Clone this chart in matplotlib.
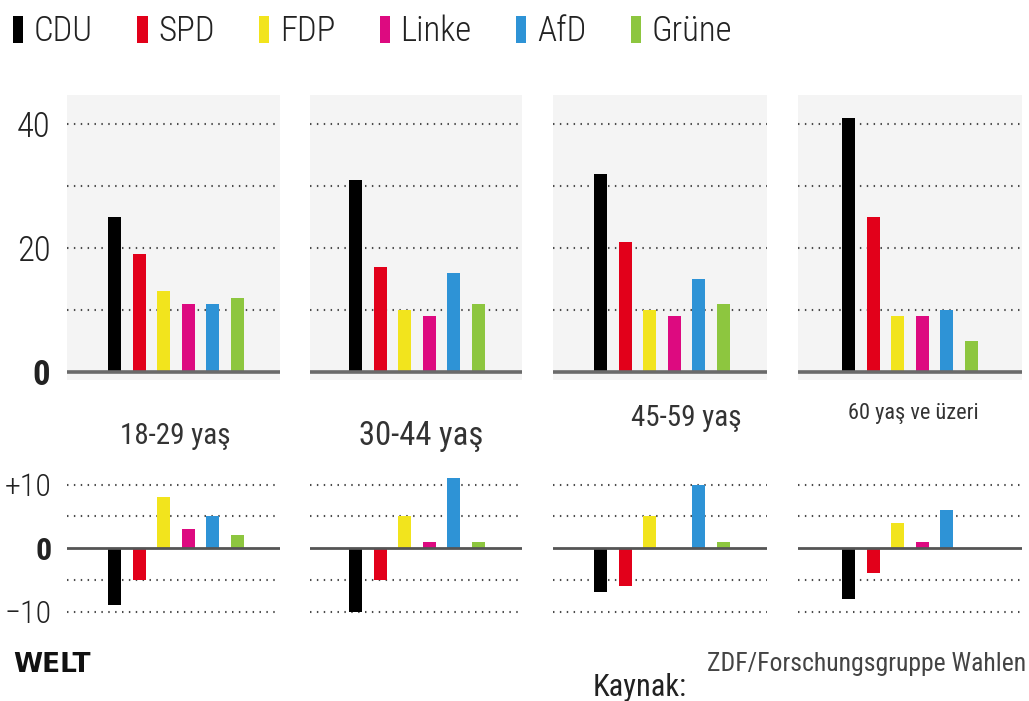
import matplotlib
matplotlib.use("Agg")
import matplotlib.pyplot as plt
from matplotlib.patches import Patch
from matplotlib import font_manager

# choose a narrow font if one is installed
_fonts = font_manager.fontManager.ttflist
_names = {f.name for f in _fonts}
_stretch = "normal"
NARROW = None
for cand in ["Liberation Sans Narrow", "Roboto Condensed", "Open Sans Condensed",
             "Arial Narrow", "Noto Sans Display"]:
    if cand in _names:
        NARROW = cand
        break
if NARROW is None:
    cond = [f for f in _fonts if f.name in ("Roboto", "Noto Sans", "Open Sans", "DejaVu Sans")
            and str(f.stretch) in ("condensed", "semi-condensed", "extra-condensed", "500", "300")]
    if cond:
        NARROW = cond[0].name
        _stretch = "condensed"
    else:
        NARROW = "Roboto" if "Roboto" in _names else "Liberation Sans"
        _stretch = "normal"

plt.rcParams['font.family'] = [NARROW, 'DejaVu Sans']
plt.rcParams['font.stretch'] = _stretch
SCALE = 1.0 if _stretch == "condensed" or "Narrow" in NARROW or "Condensed" in NARROW else 0.88

# ---------------- data ----------------
parties = ["CDU", "SPD", "FDP", "Linke", "AfD", "Grüne"]
colors = ["#000000", "#e2001a", "#f2e41d", "#dd0a80", "#2e93d6", "#8dc63f"]
age_groups = ["18-29 yaş", "30-44 yaş", "45-59 yaş", "60 yaş ve üzeri"]

share_18_29 = [25, 19, 13, 11, 11, 12]
share_30_44 = [31, 17, 10, 9, 16, 11]
share_45_59 = [32, 21, 10, 9, 15, 11]
share_60_up = [41, 25, 9, 9, 10, 5]

change_18_29 = [-9, -5, 8, 3, 5, 2]
change_30_44 = [-10, -5, 5, 1, 11, 1]
change_45_59 = [-7, -6, 5, 0, 10, 1]
change_60_up = [-8, -4, 4, 1, 6, 0]

shares = [share_18_29, share_30_44, share_45_59, share_60_up]
changes = [change_18_29, change_30_44, change_45_59, change_60_up]

top_ticks = [0, 20, 40]
top_tick_labels = ["0", "20", "40"]
top_grid = [10, 20, 30, 40]
bot_ticks = [-10, 0, 10]
bot_tick_labels = ["\u221210", "0", "+10"]
bot_grid = [-10, -5, 5, 10]

# ---------------- layout (pixels) ----------------
W, H = 1029, 701
fig = plt.figure(figsize=(W / 100, H / 100), dpi=100)
fig.patch.set_facecolor("white")

panels_x = [(67, 280), (310, 522), (553, 767), (798, 1022)]
cdu_offset = [47.5, 45.5, 47.5, 50.5]
slot = 24.6

top_y = (95, 380); top_zero = 372; top_scale = 6.2
bot_y = (474, 620); bot_zero = 548; bot_scale = 6.35


def add_ax(x0, x1, y0, y1):
    return fig.add_axes([x0 / W, 1 - y1 / H, (x1 - x0) / W, (y1 - y0) / H])


def fs(v):
    return v * SCALE


grid_kw = dict(color="#4a4a4a", lw=1.5, ls=(0, (0.7, 2.6)), zorder=1)
xs = list(range(len(parties)))

for i in range(4):
    x0, x1 = panels_x[i]
    xl = (-cdu_offset[i] / slot, (x1 - x0 - cdu_offset[i]) / slot)

    # top panel (vote share)
    ax = add_ax(x0, x1, *top_y)
    ax.set_facecolor("#f4f4f4")
    ax.set_xlim(*xl)
    ax.set_ylim((top_zero - top_y[1]) / top_scale, (top_zero - top_y[0]) / top_scale)
    for g in top_grid:
        ax.axhline(g, **grid_kw)
    ax.bar(xs, shares[i], width=0.53, color=colors, zorder=2)
    ax.axhline(0, color="#6a6a6a", lw=2.6, zorder=3)
    for s in ax.spines.values():
        s.set_visible(False)
    ax.set_xticks([])
    if i == 0:
        ax.set_yticks(top_ticks)
        ax.set_yticklabels(top_tick_labels, fontsize=fs(25), color="#222222",
                           fontweight="light")
        ax.tick_params(axis="y", length=0, pad=12)
        ax.get_yticklabels()[0].set_fontweight("bold")
    else:
        ax.set_yticks([])

    # bottom panel (change)
    bx = add_ax(x0, x1, *bot_y)
    bx.set_facecolor("white")
    bx.set_xlim(*xl)
    bx.set_ylim((bot_zero - bot_y[1]) / bot_scale, (bot_zero - bot_y[0]) / bot_scale)
    for g in bot_grid:
        bx.axhline(g, **grid_kw)
    bx.bar(xs, changes[i], width=0.53, color=colors, zorder=2)
    bx.axhline(0, color="#555555", lw=2.0, zorder=3)
    for s in bx.spines.values():
        s.set_visible(False)
    bx.set_xticks([])
    if i == 0:
        bx.set_yticks(bot_ticks)
        bx.set_yticklabels(bot_tick_labels, fontsize=fs(23), color="#222222",
                           fontweight="light")
        bx.tick_params(axis="y", length=0, pad=11)
        bx.get_yticklabels()[1].set_fontweight("bold")
    else:
        bx.set_yticks([])

# age-group labels (placed as in the reference)
label_specs = [(175, 436, 21), (421, 436, 23.5), (686, 418, 21), (913, 413, 16)]
for lab, (lx, ly, s) in zip(age_groups, label_specs):
    fig.text(lx / W, 1 - ly / H, lab, ha="center", va="center",
             fontsize=fs(s), color="#333333")

# legend
handles = [Patch(facecolor=c, edgecolor="none") for c in colors]
fig.legend(handles, parties, loc="upper left", bbox_to_anchor=(6 / W, 1 - 8 / H),
           ncol=6, frameon=False, fontsize=fs(25), handlelength=0.3, handleheight=0.8,
           handletextpad=0.3, columnspacing=1.28,
           labelcolor="#222222", borderaxespad=0, borderpad=0.2,
           prop=dict(size=fs(25), weight="light"))

# footer
fig.text(13 / W, 1 - 665 / H, "WELT", ha="left", va="center", fontsize=19,
         fontweight="heavy", color="#111111", family=["DejaVu Sans"])
fig.text(640 / W, 1 - 688 / H, "Kaynak:", ha="center", va="center",
         fontsize=fs(22), color="#222222")
fig.text(1026 / W, 1 - 664 / H, "ZDF/Forschungsgruppe Wahlen", ha="right",
         va="center", fontsize=fs(18.5), color="#444444")

fig.savefig("out.png", dpi=100, facecolor="white")
